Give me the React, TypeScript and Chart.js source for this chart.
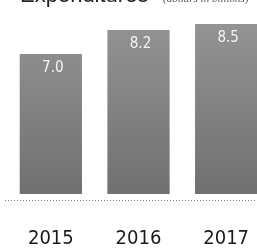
import React, { useEffect, useRef } from "react";
import { Chart, registerables } from "chart.js";

Chart.register(...registerables);

const categories = ["2015", "2016", "2017"];
const values = [7.0, 8.2, 8.5];
const valueLabels = ["7.0", "8.2", "8.5"];
const titleMain = "Expenditures";
const titleSub = "(dollars in billions)";

const NARROW = "'Liberation Sans Narrow', 'DejaVu Sans Condensed', 'Liberation Sans', sans-serif";

export default function App() {
  const ref = useRef<HTMLCanvasElement>(null);

  useEffect(() => {
    document.body.style.margin = "0";
    const canvas = ref.current!;
    const ctx = canvas.getContext("2d")!;
    const grad = ctx.createLinearGradient(0, 20, 0, 194);
    grad.addColorStop(0, "#949494");
    grad.addColorStop(1, "#707070");

    const overlay = {
      id: "overlay",
      afterDraw(chart: any) {
        const c = chart.ctx;
        const area = chart.chartArea;
        c.save();
        // title (mostly cut off at top)
        c.fillStyle = "#222";
        c.textBaseline = "alphabetic";
        c.textAlign = "left";
        c.font = "22px 'Liberation Sans', sans-serif";
        c.fillText(titleMain, 20, 2);
        c.fillStyle = "#555";
        c.font = "italic 11px 'Liberation Serif', serif";
        c.fillText(titleSub, 163, 2);
        // dotted baseline
        c.strokeStyle = "#777";
        c.lineWidth = 1;
        c.setLineDash([1, 2]);
        c.beginPath();
        c.moveTo(5, area.bottom + 6.5);
        c.lineTo(272, area.bottom + 6.5);
        c.stroke();
        c.setLineDash([]);
        // value labels
        const meta = chart.getDatasetMeta(0);
        c.fillStyle = "#f4f4f4";
        c.textAlign = "center";
        c.textBaseline = "middle";
        c.font = "15px " + NARROW;
        meta.data.forEach((el: any, i: number) => {
          c.fillText(valueLabels[i], el.x + 2, el.y + 14);
        });
        c.restore();
      },
    };

    const chart = new Chart(canvas, {
      type: "bar",
      data: {
        labels: categories,
        datasets: [
          {
            data: values,
            backgroundColor: grad,
            borderWidth: 0,
            barPercentage: 0.71,
            categoryPercentage: 1,
          },
        ],
      },
      options: {
        animation: false,
        responsive: false,
        maintainAspectRatio: false,
        layout: { padding: { top: 14, left: 7, right: 2, bottom: 0 } },
        plugins: {
          legend: { display: false },
          title: { display: false },
          tooltip: { enabled: false },
        },
        scales: {
          x: {
            grid: { display: false, drawTicks: true, tickLength: 33 },
            border: { display: false },
            ticks: {
              font: { family: NARROW, size: 20 },
              color: "#1a1a1a",
              padding: 0,
            },
            afterFit: (s: any) => {
              s.height = 54;
            },
          },
          y: { display: false, min: 0, max: 9 },
        },
      },
      plugins: [overlay],
    });
    return () => chart.destroy();
  }, []);

  return (
    <div
      style={{
        position: "fixed",
        left: 0,
        top: 0,
        width: 257,
        height: 248,
        overflow: "hidden",
        background: "#fff",
      }}
    >
      <canvas ref={ref} width={272} height={248} style={{ display: "block" }} />
    </div>
  );
}
